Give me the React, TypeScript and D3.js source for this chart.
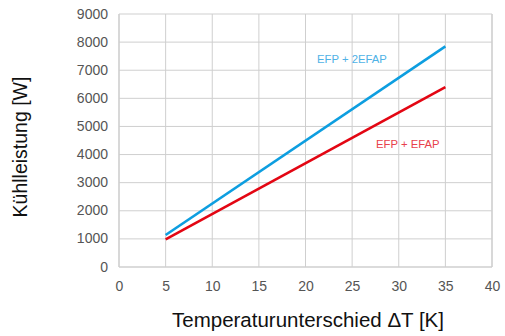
import React from "react";
import * as d3 from "d3";

const xTicks = [0, 5, 10, 15, 20, 25, 30, 35, 40];
const yTicks = [0, 1000, 2000, 3000, 4000, 5000, 6000, 7000, 8000, 9000];
const deltaT = [5, 35];
const efp2efap = [1140, 7850];
const efpEfap = [980, 6400];
const seriesNames = ["EFP + 2EFAP", "EFP + EFAP"];

const W = 505, H = 336;
const M = { left: 119, right: 492, top: 14, bottom: 267 };
const FONT = "'Liberation Sans', Arial, sans-serif";

export default function App() {
  const x = d3.scaleLinear().domain([0, 40]).range([M.left, M.right]);
  const y = d3.scaleLinear().domain([0, 9000]).range([M.bottom, M.top]);
  const line = d3.line<[number, number]>().x(d => x(d[0])).y(d => y(d[1]));
  const blue = line(deltaT.map((t, i) => [t, efp2efap[i]]));
  const red = line(deltaT.map((t, i) => [t, efpEfap[i]]));
  return (
    <svg width={W} height={H} style={{ position: "absolute", left: 0, top: 0, background: "#fff" }} fontFamily={FONT}>
      {xTicks.map(t => (
        <line key={"gx" + t} x1={x(t)} x2={x(t)} y1={M.top} y2={M.bottom} stroke="#cfcfcf" strokeWidth={t === 0 || t === 40 ? 1.6 : 1} />
      ))}
      {yTicks.map(t => (
        <line key={"gy" + t} x1={M.left} x2={M.right} y1={y(t)} y2={y(t)} stroke="#cfcfcf" strokeWidth={t === 0 ? 1.6 : 1} />
      ))}
      {yTicks.map(t => (
        <text key={"ty" + t} x={108} y={y(t) + 4.5} textAnchor="end" fontSize={14} fill="#555">{t}</text>
      ))}
      {xTicks.map(t => (
        <text key={"tx" + t} x={x(t) + 0.5} y={291} textAnchor="middle" fontSize={14} fill="#555">{t}</text>
      ))}
      <path d={blue || ""} fill="none" stroke="#0d9ee0" strokeWidth={2.6} />
      <path d={red || ""} fill="none" stroke="#e30613" strokeWidth={2.6} />
      <text x={317} y={63} fontSize={11.3} fill="#4fb2e6">{seriesNames[0]}</text>
      <text x={376} y={148} fontSize={11.3} fill="#e8414c">{seriesNames[1]}</text>
      <text x={(173 + 443) / 2} y={327} textAnchor="middle" fontSize={20.5} fill="#111">Temperaturunterschied ΔT [K]</text>
      <text transform={`translate(27,147) rotate(-90)`} textAnchor="middle" fontSize={19.5} fill="#111">Kühlleistung [W]</text>
    </svg>
  );
}
